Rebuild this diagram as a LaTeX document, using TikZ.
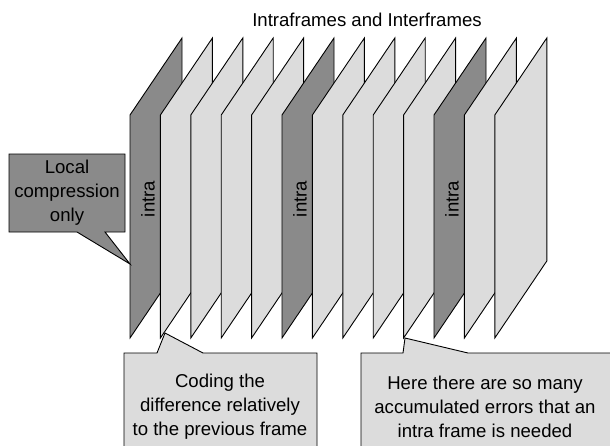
\documentclass[tikz,border=0pt]{standalone}
\usepackage{fontspec}
\setmainfont{Liberation Sans}
\definecolor{darkframe}{HTML}{8A8A8A}
\definecolor{lightframe}{HTML}{DCDCDC}
\tikzset{
  frameshape/.style={draw=black, line width=0.9pt, line join=miter},
  calloutshape/.style={draw=black, line width=0.9pt},
  lbl/.style={font=\fontsize{18.6}{24}\selectfont, align=center, inner sep=0pt},
}
\begin{document}
\begin{tikzpicture}[x=1pt,y=-1pt]
\useasboundingbox (0,0) rectangle (610,445);
\clip (0,0) rectangle (610,445);
\node[lbl] (title) at (367,20) {Intraframes and Interframes};
% frames
\foreach \i in {0,...,12}{
  \pgfmathsetmacro{\L}{130+30.4*\i}
  \ifnum\i=0 \def\fc{darkframe}\else\ifnum\i=5 \def\fc{darkframe}\else\ifnum\i=10 \def\fc{darkframe}\else\def\fc{lightframe}\fi\fi\fi
  \fill[\fc] (\L,338) -- (\L,115) -- (\L+52,38) -- (\L+52,261) -- cycle;
  \draw[frameshape] (\L,338) -- (\L,115) -- (\L+52,38) -- (\L+52,261) -- cycle;
}
\node[lbl, rotate=90] (intraA) at (148,199) {intra};
\node[lbl, rotate=90] (intraB) at (300,199) {intra};
\node[lbl, rotate=90] (intraC) at (452,199) {intra};
% callout 1
\coordinate (tipA) at (130,264);
\filldraw[calloutshape, fill=darkframe] (9,154) -- (125,154) -- (125,232) -- (105,232) -- (tipA) -- (77,232) -- (9,232) -- cycle;
\node[lbl] (textA) at (67,193) {Local\\compression\\only};
% callout 2
\coordinate (tipB) at (165,333);
\filldraw[calloutshape, fill=lightframe] (124,460) -- (124,353) -- (157,353) -- (tipB) -- (203,353) -- (317,353) -- (317,460);
\node[lbl] (textB) at (220,407) {Coding the\\difference relatively\\to the previous frame};
% callout 3
\coordinate (tipC) at (405,338);
\filldraw[calloutshape, fill=lightframe] (361,460) -- (361,353) -- (403,353) -- (tipC) -- (468,353) -- (620,353) -- (620,460);
\node[lbl] (textC) at (485,407) {Here there are so many\\accumulated errors that an\\intra frame is needed};
\end{tikzpicture}
\end{document}
